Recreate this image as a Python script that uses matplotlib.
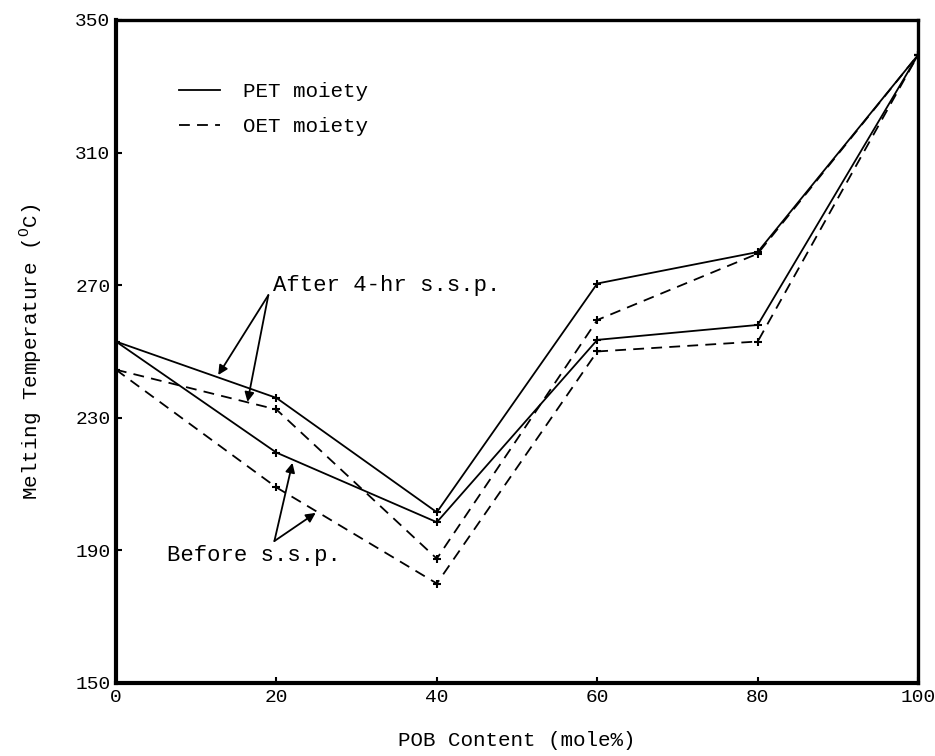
import numpy as np
import matplotlib.pyplot as plt
from matplotlib.lines import Line2D

plt.rcParams['font.family'] = ['Liberation Mono', 'DejaVu Sans Mono']
plt.rcParams['mathtext.fontset'] = 'custom'
plt.rcParams['mathtext.rm'] = 'Liberation Mono'

# data
pob = [0, 20, 40, 60, 80, 100]
pet_after = [253, 236, 201.5, 270.5, 280, 339.5]
oet_after = [244.5, 232.5, 187.5, 259.5, 279.5, 339.5]
pet_before = [253, 219.5, 198.5, 253.5, 258, 339.5]
oet_before = [244.5, 209, 180, 250, 253, 339.5]

xticks = [0, 20, 40, 60, 80, 100]
yticks = [150, 190, 230, 270, 310, 350]

fig = plt.figure(figsize=(9.35, 7.56), dpi=100)
ax = fig.add_axes([0.124, 0.0966, 0.858, 0.877])

lw = 1.3
dash = (6, 4)
ax.plot(pob, pet_after, '-k', lw=lw, marker='+', ms=6, mew=1.5)
ax.plot(pob, oet_after, '--k', lw=lw, dashes=dash, marker='+', ms=6, mew=1.5)
ax.plot(pob, pet_before, '-k', lw=lw, marker='+', ms=6, mew=1.5)
ax.plot(pob, oet_before, '--k', lw=lw, dashes=dash, marker='+', ms=6, mew=1.5)

ax.set_xlim(0, 100)
ax.set_ylim(150, 350)
ax.set_xticks(xticks)
ax.set_yticks(yticks)
ax.tick_params(direction='in', length=4, width=1.5, labelsize=14, pad=4)

for s in ['left', 'bottom']:
    ax.spines[s].set_linewidth(3.0)
for s in ['top', 'right']:
    ax.spines[s].set_linewidth(2.4)

ax.set_xlabel('POB Content (mole%)', fontsize=15, labelpad=18)
ax.set_ylabel(r'Melting Temperature ($^{\mathrm{O}}$C)', fontsize=15, labelpad=22)

handles = [Line2D([], [], color='k', lw=lw, ls='-'),
           Line2D([], [], color='k', lw=lw, ls='--', dashes=dash)]
ax.legend(handles, ['PET moiety', 'OET moiety'], loc='upper left',
          bbox_to_anchor=(0.055, 0.934), frameon=False,
          fontsize=15, handlelength=2.0, handletextpad=1.1, labelspacing=0.75)

arr = dict(arrowstyle='-|>', color='k', lw=1.3, mutation_scale=14, shrinkA=0, shrinkB=0)
ax.text(19.6, 269.8, 'After 4-hr s.s.p.', fontsize=16, va='center', ha='left')
ax.annotate('', xy=(12.75, 242.9), xytext=(19, 267), arrowprops=arr)
ax.annotate('', xy=(16.4, 234.8), xytext=(19, 267), arrowprops=arr)

ax.text(6.4, 188.6, 'Before s.s.p.', fontsize=16, va='center', ha='left')
ax.annotate('', xy=(22, 216.4), xytext=(19.75, 192.8), arrowprops=arr)
ax.annotate('', xy=(24.9, 201.3), xytext=(19.75, 192.8), arrowprops=arr)

fig.savefig('out.png', dpi=100)
